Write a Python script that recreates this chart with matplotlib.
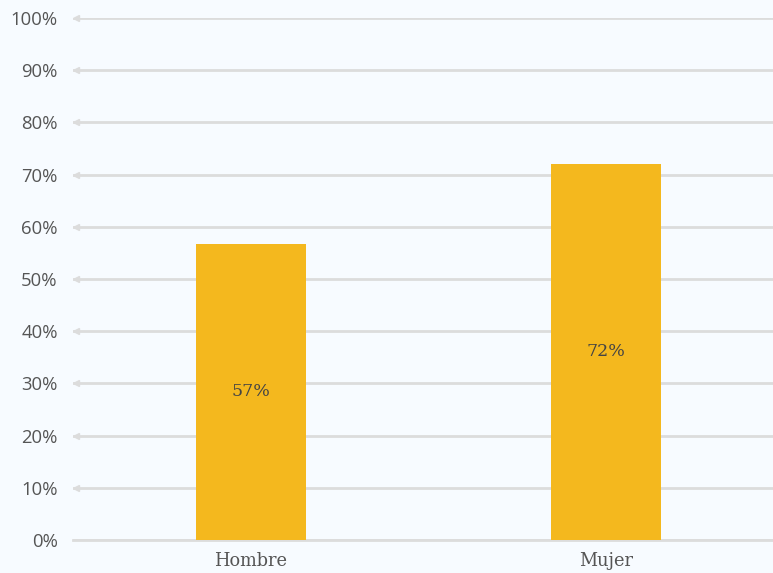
import matplotlib
matplotlib.use("Agg")
import matplotlib.pyplot as plt
from matplotlib.ticker import FuncFormatter, MultipleLocator

categories = ["Hombre", "Mujer"]
values = [56.8, 72.1]
labels = ["57%", "72%"]

bg = "#F7FBFF"
bar_color = "#F4B81E"
grid_color = "#DCDCDC"

fig = plt.figure(figsize=(7.73, 5.73), dpi=100, facecolor=bg)
W, H = 773, 573
ax = fig.add_axes([73 / W, (H - 540) / H, (784 - 73) / W, (540 - 18) / H])
ax.set_facecolor(bg)

x = list(range(len(categories)))
ax.bar(x, values, width=0.31, color=bar_color, zorder=3)
ax.set_xlim(-0.5, len(categories) - 0.5)
ax.set_ylim(0, 100)

for xi, v, lab in zip(x, values, labels):
    ax.text(xi, v / 2, lab, ha="center", va="center", fontsize=12.5,
            family="DejaVu Serif", color="#444444", zorder=4)

ax.yaxis.set_major_locator(MultipleLocator(10))
ax.yaxis.set_major_formatter(FuncFormatter(lambda v, p: f"{int(v)}%"))
ax.grid(axis="y", color=grid_color, linewidth=2, zorder=0)
# small arrow heads at left end of grid lines
for yv in range(10, 101, 10):
    ax.plot([0.004], [yv], marker="<", markersize=4, color=grid_color,
            transform=ax.get_yaxis_transform(), clip_on=False, zorder=1)

for s in ["top", "right", "left"]:
    ax.spines[s].set_visible(False)
ax.spines["bottom"].set_color(grid_color)
ax.spines["bottom"].set_linewidth(2)

ax.tick_params(axis="y", length=0, pad=11, labelsize=13.3, labelcolor="#555555")
ax.tick_params(axis="x", length=0, pad=9, labelsize=12.8, labelcolor="#555555")
for t in ax.get_yticklabels():
    t.set_family("Open Sans")
ax.set_xticks(x)
ax.set_xticklabels(categories, family="DejaVu Serif")

fig.savefig("out.png", dpi=100, facecolor=bg)
